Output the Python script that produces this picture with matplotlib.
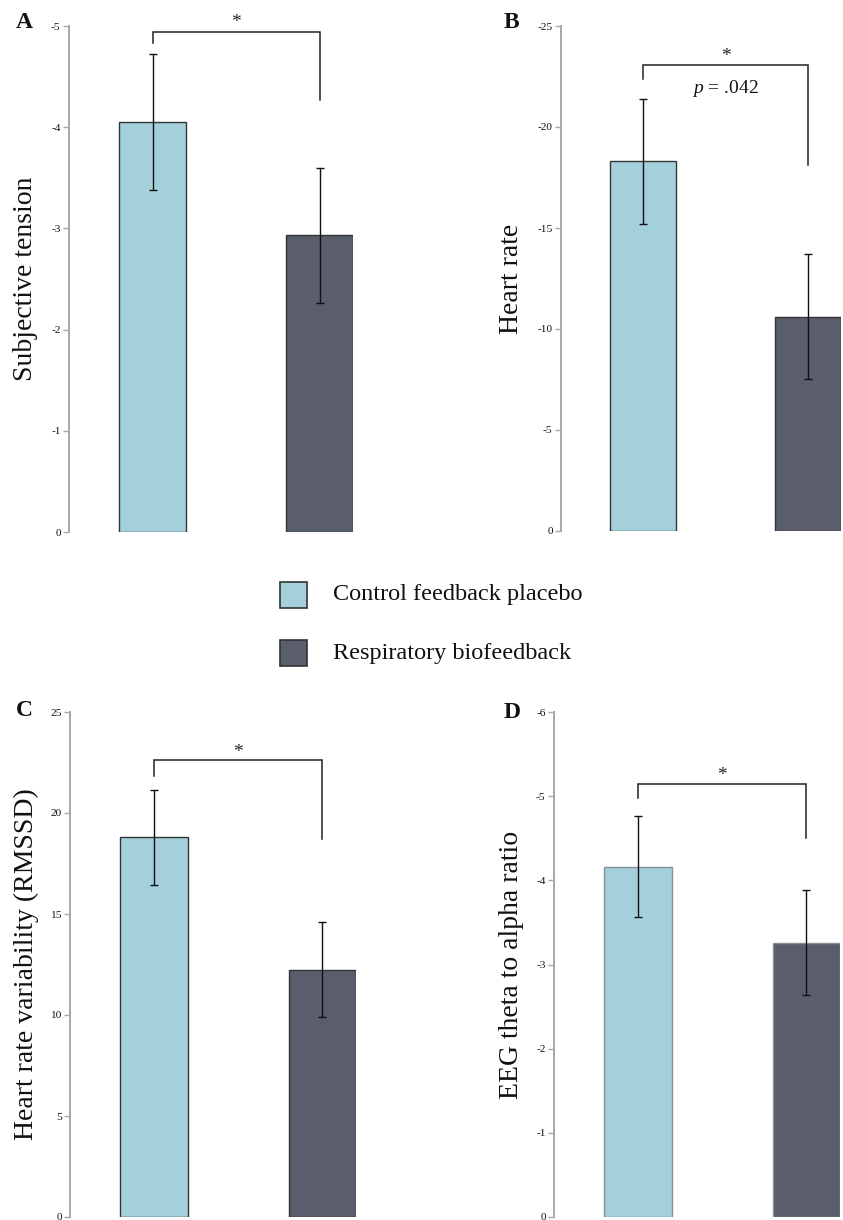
import matplotlib
matplotlib.use("Agg")
import matplotlib.pyplot as plt
from matplotlib.patches import Rectangle

# ---------------- data ----------------
groups = ["Control feedback placebo", "Respiratory biofeedback"]
colors = ["#A3D0DB", "#5A5D6B"]

tension_mean = [-4.05, -2.93]
tension_err = [0.67, 0.67]

hr_mean = [-18.3, -10.6]
hr_err = [3.1, 3.1]

hrv_mean = [18.8, 12.25]
hrv_err = [2.35, 2.35]

eeg_mean = [-4.16, -3.26]
eeg_err = [0.60, 0.62]

tension_ticks = [0, -1, -2, -3, -4, -5]
hr_ticks = [0, -5, -10, -15, -20, -25]
hrv_ticks = [0, 5, 10, 15, 20, 25]
eeg_ticks = [0, -1, -2, -3, -4, -5, -6]

# ---------------- style ----------------
plt.rcParams["axes.unicode_minus"] = False
plt.rcParams["font.family"] = ["Liberation Serif", "DejaVu Serif"]
plt.rcParams["mathtext.fontset"] = "custom"
plt.rcParams["mathtext.it"] = "Liberation Serif:italic"
plt.rcParams["mathtext.rm"] = "Liberation Serif"

W, H = 843, 1220
fig = plt.figure(figsize=(W / 100, H / 100), dpi=100)


def px_axes(left, top, right, bottom):
    return fig.add_axes([left / W, 1 - bottom / H, (right - left) / W, (bottom - top) / H])


def panel(box, means, errs, ticks, ylim, edge, ylabel, label_x, letter, letter_xy,
          bracket, p_text=None):
    ax = px_axes(*box)
    x = [0, 1]
    ax.bar(x, means, width=0.4, color=colors, edgecolor=edge, linewidth=1.0, zorder=2)
    ax.errorbar(x, means, yerr=errs, fmt="none", ecolor="#111111", elinewidth=1.0,
                capsize=3.2, capthick=1.0, zorder=3)
    ax.set_xlim(-0.5, 1.2)
    ax.set_ylim(*ylim)
    ax.set_yticks(ticks)
    ax.set_yticklabels([str(t) for t in ticks])
    ax.set_xticks([])
    for s in ["top", "right", "bottom"]:
        ax.spines[s].set_visible(False)
    ax.spines["left"].set_color("#A8A8A8")
    ax.spines["left"].set_linewidth(1.4)
    ax.tick_params(axis="y", direction="out", length=4, width=1, color="#A8A8A8",
                   labelsize=8.2, labelcolor="#111111", pad=2)
    # significance bracket
    yb, yl, yr, ys = bracket
    ax.plot([0, 0, 1, 1], [yl, yb, yb, yr], color="#222222", lw=1.1, clip_on=False,
            solid_joinstyle="miter", zorder=4)
    ax.text(0.5, ys, "*", ha="center", va="center", fontsize=14, color="#222222",
            clip_on=False)
    if p_text is not None:
        ax.text(0.5, p_text[1], p_text[0], ha="center", va="center", fontsize=14,
                color="#111111")
    # y label and panel letter
    cy = (box[1] + box[3]) / 2
    fig.text(label_x / W, 1 - cy / H, ylabel, rotation=90, ha="center", va="center",
             fontsize=20, color="#111111")
    fig.text(letter_xy[0] / W, 1 - letter_xy[1] / H, letter, ha="center", va="center",
             fontsize=17, fontweight="bold", color="#111111")
    return ax


panel((69, 26, 353, 532), tension_mean, tension_err, tension_ticks, (0, -5), "#333333",
      "Subjective tension", 26, "A", (24, 22), (-4.94, -4.83, -4.27, -5.03))

panel((561, 26, 841, 531), hr_mean, hr_err, hr_ticks, (0, -25), "#333333",
      "Heart rate", 512, "B", (511, 22), (-23.07, -22.38, -18.12, -23.5),
      p_text=(r"$p$ = .042", -21.9))

panel((70, 712, 356, 1217), hrv_mean, hrv_err, hrv_ticks, (0, 25), "#333333",
      "Heart rate variability (RMSSD)", 26, "C", (24, 711), (22.62, 21.83, 18.71, 23.0))

panel((554, 712, 840, 1217), eeg_mean, eeg_err, eeg_ticks, (0, -6), "#858F96",
      "EEG theta to alpha ratio", 512, "D", (512, 712), (-5.14, -4.98, -4.50, -5.25))

# ---------------- legend ----------------
for i, (g, c) in enumerate(zip(groups, colors)):
    cy = 595 + i * 58
    fig.patches.append(Rectangle((280 / W, 1 - (cy + 13) / H), 27 / W, 26 / H,
                                 transform=fig.transFigure, facecolor=c,
                                 edgecolor="#333333", linewidth=1.2))
    fig.text(333 / W, 1 - cy / H, g, ha="left", va="center", fontsize=17.5,
             color="#111111")

fig.savefig("out.png", dpi=100, facecolor="white")
